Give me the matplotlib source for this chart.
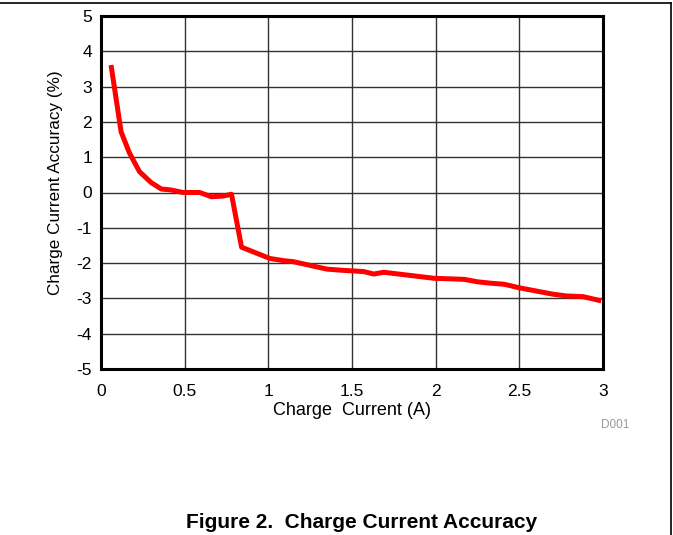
import numpy as np
import matplotlib
matplotlib.use("Agg")
import matplotlib.pyplot as plt
from matplotlib.lines import Line2D

plt.rcParams['font.family'] = ['Liberation Sans', 'DejaVu Sans']
plt.rcParams['axes.unicode_minus'] = False

# values
current = [0.06, 0.12, 0.17, 0.23, 0.30, 0.36, 0.42, 0.49, 0.59, 0.66, 0.73, 0.78,
           0.84, 1.01, 1.09, 1.15, 1.35, 1.43, 1.57, 1.63, 1.69, 1.99, 2.17, 2.25,
           2.33, 2.41, 2.50, 2.70, 2.78, 2.88, 2.99]
accuracy = [3.61, 1.72, 1.12, 0.59, 0.28, 0.10, 0.07, 0.00, 0.00, -0.12, -0.10, -0.05,
            -1.55, -1.87, -1.93, -1.96, -2.17, -2.20, -2.24, -2.31, -2.26, -2.43, -2.46, -2.53,
            -2.57, -2.60, -2.70, -2.88, -2.93, -2.95, -3.07]

xticks = [0, 0.5, 1, 1.5, 2, 2.5, 3]
xtick_labels = ['0', '0.5', '1', '1.5', '2', '2.5', '3']
yticks = [-5, -4, -3, -2, -1, 0, 1, 2, 3, 4, 5]

fig = plt.figure(figsize=(6.73, 5.35), dpi=100)
ax = fig.add_axes([101/673, 1-369/535, 502/673, 353/535])

ax.plot(current, accuracy, color='#ff0000', linewidth=3.6, solid_capstyle='butt', zorder=3)

ax.set_xlim(0, 3)
ax.set_ylim(-5, 5)
ax.set_xticks(xticks)
ax.set_xticklabels(xtick_labels)
ax.set_yticks(yticks)
ax.tick_params(axis='both', length=0, labelsize=12.5)
ax.tick_params(axis='x', pad=11)
ax.tick_params(axis='y', pad=6.5)
ax.grid(True, color='#333333', linewidth=1.0)
ax.set_axisbelow(True)
for s in ax.spines.values():
    s.set_linewidth(2.2)
    s.set_color('black')

ax.set_xlabel('Charge  Current (A)', fontsize=13, labelpad=2)
ax.set_ylabel('Charge Current Accuracy (%)', fontsize=12.3)
ax.yaxis.set_label_coords(-38/502, (369-183)/353)

fig.text(615/673, 1-425/535, 'D001', color='#999999', fontsize=8.5, ha='center', va='center')
fig.text(362/673, 1-523/535, 'Figure 2.  Charge Current Accuracy', fontsize=15,
         fontweight='bold', ha='center', va='center')

# page border lines
fig.add_artist(Line2D([0, 671/673], [1-3/535, 1-3/535], color='black', linewidth=1.2))
fig.add_artist(Line2D([671/673, 671/673], [0, 1-3/535], color='black', linewidth=1.2))

fig.savefig('out.png', dpi=100)
